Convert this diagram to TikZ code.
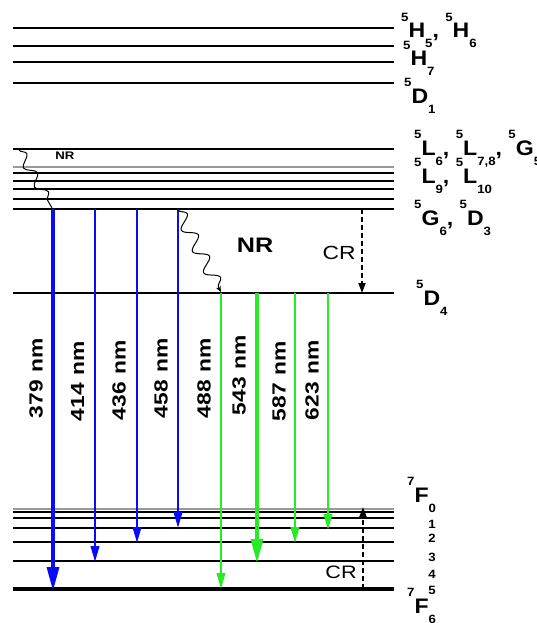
\documentclass[tikz,border=0pt]{standalone}
\usepackage{fontspec}
\setmainfont[FakeStretch=1.2]{Liberation Sans}
\newfontfamily\lblfont[FakeStretch=1.1]{Liberation Sans}
\usetikzlibrary{arrows.meta,decorations.pathmorphing}
\definecolor{myblue}{RGB}{10,10,245}
\definecolor{mygreen}{RGB}{40,235,40}
\newcommand{\lsup}[1]{\raisebox{16.5pt}{\fontsize{12}{12}\selectfont #1}}
\newcommand{\lsub}[1]{\raisebox{-10pt}{\fontsize{12}{12}\selectfont #1}}
\begin{document}
\begin{tikzpicture}[x=1pt,y=-1pt,
  lvl/.style={line width=2.8pt},
  lvlg/.style={line width=2.8pt, draw=black!40},
  lbl/.style={anchor=base west, inner sep=0pt, font=\lblfont\fontsize{21}{21}\selectfont\bfseries},
  dig/.style={inner sep=0pt, font=\lblfont\fontsize{12}{12}\selectfont\bfseries},
  wl/.style={rotate=90, inner sep=0pt, font=\fontsize{19}{19}\selectfont\bfseries},
  bl/.style={myblue, line width=2.4pt, -{Triangle[length=16pt,width=8.5pt]}},
  blb/.style={myblue, line width=3.2pt, -{Triangle[length=24pt,width=12pt]}},
  gr/.style={mygreen, line width=2.4pt, -{Triangle[length=16pt,width=8.5pt]}},
  grb/.style={mygreen, line width=3.2pt, -{Triangle[length=24pt,width=12pt]}},
  cr/.style={line width=2pt, dash pattern=on 5pt off 3pt, -{Triangle[length=10pt,width=7pt]}},
  nrw/.style={decorate, decoration={snake, amplitude=5pt, segment length=22pt, post length=4pt}, line width=1pt},
  txt/.style={inner sep=0pt}
]
\useasboundingbox (0,0) rectangle (536,623);
% upper levels
\foreach \y in {28,46,62,83} \draw[lvl] (13,\y) -- (394,\y);
\draw[lvl] (13,149) -- (394,149);
\draw[lvlg] (13,167) -- (394,167);
\foreach \y in {173,181,189,199,209} \draw[lvl] (13,\y) -- (394,\y);
\draw[line width=2.3pt] (13,293) -- (394,293);
% 7F levels
\draw[lvlg] (13,509) -- (394,509);
\foreach \y in {512,518,528,542,561} \draw[lvl] (13,\y) -- (394,\y);
\draw[line width=3.5pt] (13,589) -- (394,589);
% coordinates
\coordinate (b1a) at (53,209);  \coordinate (b1b) at (53,591);
\coordinate (b2a) at (95,209);  \coordinate (b2b) at (95,562);
\coordinate (b3a) at (137,209); \coordinate (b3b) at (137,543);
\coordinate (b4a) at (178,209); \coordinate (b4b) at (178,528);
\coordinate (g1a) at (221,293); \coordinate (g1b) at (221,589);
\coordinate (g2a) at (257,293); \coordinate (g2b) at (257,563);
\coordinate (g3a) at (295,293); \coordinate (g3b) at (295,543);
\coordinate (g4a) at (328,293); \coordinate (g4b) at (328,530);
\coordinate (cr1a) at (362,209); \coordinate (cr1b) at (362,293);
\coordinate (cr2a) at (363,589); \coordinate (cr2b) at (363,507);
\coordinate (nr1a) at (19,150); \coordinate (nr1b) at (52,208);
\coordinate (nr2a) at (178,210); \coordinate (nr2b) at (221,292);
% transitions
\draw[blb] (b1a) -- (b1b);
\draw[bl] (b2a) -- (b2b);
\draw[bl] (b3a) -- (b3b);
\draw[bl] (b4a) -- (b4b);
\draw[gr] (g1a) -- (g1b);
\draw[grb] (g2a) -- (g2b);
\draw[gr] (g3a) -- (g3b);
\draw[gr] (g4a) -- (g4b);
\draw[cr] (cr1a) -- (cr1b);
\draw[cr] (cr2a) -- (cr2b);
\draw[nrw] (nr1a) -- (nr1b);
\draw[nrw, decoration={amplitude=6.5pt, segment length=24pt}, -{Stealth[length=6pt,width=5pt]}] (nr2a) -- (nr2b);
% wavelength labels
\node[wl] (w1) at (36,378) {379\hspace{8pt}nm};
\node[wl] (w2) at (77.5,381) {414\hspace{8pt}nm};
\node[wl] (w3) at (119,380) {436\hspace{8pt}nm};
\node[wl] (w4) at (161,378) {458\hspace{8pt}nm};
\node[wl] (w5) at (204,378) {488\hspace{8pt}nm};
\node[wl] (w6) at (239,375) {543\hspace{8pt}nm};
\node[wl] (w7) at (279,381) {587\hspace{8pt}nm};
\node[wl] (w8) at (312,380) {623\hspace{8pt}nm};
% NR / CR labels
\node[txt, font=\fontsize{11}{11}\selectfont\bfseries] (nrs) at (65,156) {NR};
\node[txt, font=\fontsize{21}{21}\selectfont\bfseries] (nrb) at (255,245) {NR};
\node[txt, font=\fontsize{19}{19}\selectfont] (cru) at (339,253) {CR};
\node[txt, font=\fontsize{18}{18}\selectfont] (crl) at (341,572) {CR};
% level labels
\node[lbl] (l1) at (401,38) {\lsup{5}H\lsub{5}, \lsup{5}H\lsub{6}};
\node[lbl] (l2) at (403,66) {\lsup{5}H\lsub{7}};
\node[lbl] (l3) at (404,103) {\lsup{5}D\lsub{1}};
\node[lbl] (l4) at (414,155) {\lsup{5}L\lsub{6}, \lsup{5}L\lsub{7,8}, \lsup{5}G\lsub{5}};
\node[lbl] (l5) at (414,183) {\lsup{5}L\lsub{9}, \lsup{5}L\lsub{10}};
\node[lbl] (l6) at (414,225) {\lsup{5}G\lsub{6}, \lsup{5}D\lsub{3}};
\node[lbl] (l7) at (416,305) {\lsup{5}D\lsub{4}};
\node[lbl] (l8) at (407,502) {\lsup{7}F\lsub{0}};
\node[lbl] (l9) at (407,613) {\lsup{7}F\lsub{6}};
\node[dig] (d1) at (432,524) {1};
\node[dig] (d2) at (432,538) {2};
\node[dig] (d3) at (432,557) {3};
\node[dig] (d4) at (432,574) {4};
\node[dig] (d5) at (432,590) {5};
\end{tikzpicture}
\end{document}
